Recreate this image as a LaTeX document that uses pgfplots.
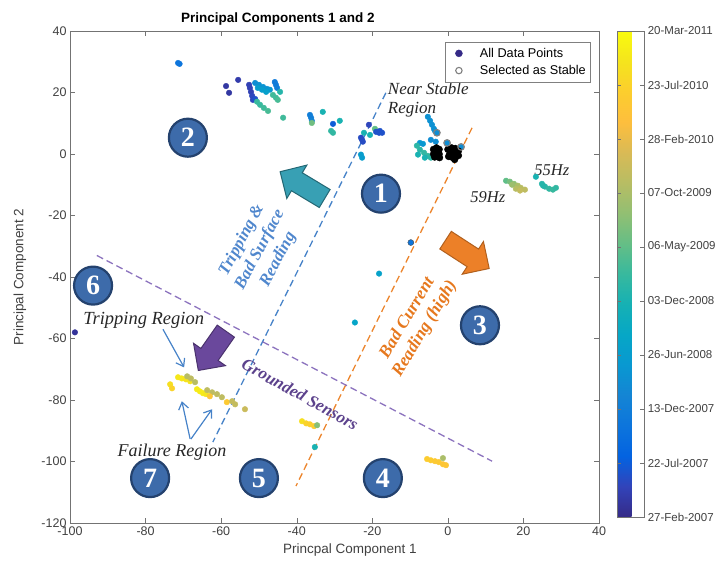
\documentclass[border=0pt]{standalone}
\usepackage{pgfplots}
\pgfplotsset{compat=1.18}
\usetikzlibrary{shapes.arrows,arrows.meta}
\usepackage{fontspec}
\setmainfont{Liberation Sans}
\newfontfamily\timesfont{Liberation Serif}

\definecolor{cbDark}{rgb}{0.2081,0.1663,0.5292}
\definecolor{ptblue}{rgb}{0.0498,0.4586,0.8641}
\definecolor{numblue}{RGB}{61,107,170}
\definecolor{numedge}{RGB}{36,66,110}
\definecolor{tealarrow}{RGB}{56,160,180}
\definecolor{orangearrow}{RGB}{236,128,40}
\definecolor{purplearrow}{RGB}{106,72,156}
\definecolor{bluedash}{RGB}{70,130,200}
\definecolor{orangedash}{RGB}{236,133,45}
\definecolor{purpledash}{RGB}{140,115,190}
\definecolor{bluetext}{RGB}{80,135,205}
\definecolor{orangetext}{RGB}{230,120,30}
\definecolor{purpletext}{RGB}{92,66,140}

\pgfplotstableread{
x y c
-71.4 29.6 1.7
-71.0 29.3 1.7
-58.7 22.1 0.3
-57.9 19.9 0.3
-55.5 24.1 0.4
-52.6 22.5 0.5
-52.4 21.5 0.5
-52.1 20.2 0.5
-51.8 18.9 0.6
-51.6 17.6 0.6
-51.0 17.9 0.8
-51.0 23.1 2.5
-50.0 22.5 2.6
-48.9 21.8 2.7
-47.9 21.2 2.7
-47.1 20.9 2.8
-50.3 21.5 3.0
-49.2 20.9 3.0
-48.1 20.2 3.1
-45.8 23.4 1.9
-45.5 22.5 1.9
-45.2 21.5 2.0
-46.3 19.2 4.6
-45.5 18.3 4.6
-45.0 17.6 4.7
-44.4 20.2 4.2
-50.5 17.0 4.5
-49.7 16.0 4.5
-48.7 15.0 4.6
-47.6 14.0 4.7
-43.6 11.8 4.6
-36.5 12.7 2.0
-36.2 11.8 2.0
-36.0 10.8 2.2
-36.0 10.1 5.2
-33.1 13.7 4.0
-30.4 9.8 1.0
-28.6 10.8 4.0
-30.9 7.5 4.4
-30.4 6.9 4.4
-20.9 9.5 0.6
-19.3 8.2 5.0
-19.0 7.2 0.8
-18.2 6.9 0.8
-17.4 6.9 0.8
-18.0 7.5 0.8
-22.2 6.9 4.0
-20.6 6.2 4.0
-22.7 4.6 0.7
-22.5 4.0 0.7
-23.0 5.3 0.7
-23.0 -0.2 3.0
-22.7 -1.2 3.0
-5.3 12.1 2.6
-4.7 10.8 2.6
-4.2 9.5 2.6
-3.7 8.2 2.6
-3.4 7.5 2.6
-7.4 3.6 2.8
-6.6 3.3 2.8
-8.2 2.7 4.3
-7.4 1.4 4.3
-6.3 0.4 4.4
-5.3 -0.6 4.4
-7.9 -0.2 4.0
-6.1 -1.2 4.0
-4.5 -1.2 4.3
-4.5 4.6 2.5
-3.2 4.0 2.5
-2.9 6.9 2.5
-0.2 3.6 2.5
3.5 2.3 2.5
15.4 -8.7 5.0
16.4 -9.0 5.3
17.5 -9.7 5.6
18.5 -10.3 6.0
19.3 -11.0 6.2
20.4 -11.6 6.3
18.0 -11.3 6.2
17.0 -10.0 5.8
19.1 -11.9 6.4
23.3 -7.4 4.0
24.9 -9.7 4.2
25.7 -10.6 4.3
26.8 -11.3 4.4
27.8 -11.6 4.5
28.6 -11.0 4.4
25.2 -10.3 4.2
-18.2 -38.9 3.2
-24.6 -54.8 3.3
-98.7 -58.0 0.2
-73.5 -74.9 8.3
-73.0 -76.2 8.0
-71.4 -72.6 8.5
-70.4 -73.0 8.5
-69.3 -73.3 8.4
-68.2 -73.9 8.4
-69.0 -72.3 6.2
-68.0 -73.0 6.3
-66.9 -74.2 6.2
-66.4 -76.5 8.6
-65.6 -77.2 8.6
-64.8 -77.8 8.6
-64.0 -78.1 8.5
-63.7 -76.8 6.3
-62.4 -77.5 6.3
-61.1 -78.1 6.3
-63.0 -78.8 7.6
-59.8 -79.1 6.3
-58.5 -80.7 7.7
-57.1 -80.4 6.4
-56.3 -81.4 6.4
-53.7 -83.0 6.5
-38.6 -86.9 8.3
-37.5 -87.6 8.0
-36.5 -87.9 7.9
-35.4 -88.5 7.8
-34.6 -88.2 5.5
-35.2 -95.3 4.0
-5.5 -99.2 7.8
-4.5 -99.6 7.8
-3.4 -99.9 7.7
-2.4 -100.2 7.7
-1.3 -100.9 7.6
-0.5 -101.2 7.6
-1.3 -98.9 6.0
}\alldata

\pgfplotstableread{
x y
-3.8 1.5
-3.0 2.0
-2.3 1.5
-3.8 0.0
-3.0 0.5
-2.3 0.0
-3.5 -1.0
-2.7 -0.8
-3.4 1.0
-2.6 0.8
-3.1 -0.3
-2.2 -1.2
0.0 1.5
1.0 2.0
2.0 1.8
2.8 1.0
0.5 0.0
1.5 0.3
2.5 0.0
1.0 -1.0
2.0 -1.0
2.8 -0.5
0.2 -0.8
0.7 1.0
1.7 1.1
2.3 0.8
1.2 -0.3
1.8 -1.8
}\stableblob

\pgfplotstableread{
x y
-2.9 6.9
-0.2 3.6
3.5 2.3
}\stablering

\begin{document}
\begin{tikzpicture}
\begin{axis}[
  name=main,
  scale only axis,
  width=529pt, height=492pt,
  xmin=-100, xmax=40, ymin=-120, ymax=40,
  xtick={-100,-80,...,40}, ytick={-120,-100,...,40},
  tick align=inside, xtick pos=both, ytick pos=both,
  major tick length=5pt,
  axis line style={black!55},
  every tick/.style={black!55},
  tick label style={font=\fontsize{12.5}{14}\selectfont, text=black!75},
  /pgf/number format/assume math mode=true,
  clip=false,
  title={Principal Components 1 and 2},
  title style={font=\bfseries\fontsize{13.5}{15}\selectfont, at={(0.393,1.006)}, anchor=base},
  xlabel={Princpal Component 1},
  ylabel={Principal Component 2},
  xlabel style={font=\fontsize{13.5}{15}\selectfont, text=black!75, at={(0.529,-0.063)}, anchor=base},
  ylabel style={font=\fontsize{13.5}{15}\selectfont, text=black!75, at={(-0.0945,0.5)}, anchor=center},
  colormap={parula}{
    rgb=(0.2081,0.1663,0.5292) rgb=(0.1959,0.2645,0.7279) rgb=(0.0117,0.3875,0.8820)
    rgb=(0.0498,0.4586,0.8641) rgb=(0.0793,0.5200,0.8312) rgb=(0.0343,0.5966,0.8199)
    rgb=(0.0228,0.6535,0.7768) rgb=(0.0843,0.6928,0.7062) rgb=(0.2178,0.7250,0.6193)
    rgb=(0.3953,0.7459,0.5244) rgb=(0.5709,0.7485,0.4494) rgb=(0.7184,0.7411,0.3905)
    rgb=(0.8507,0.7299,0.3360) rgb=(0.9938,0.7455,0.2403) rgb=(0.9880,0.8066,0.1794)
    rgb=(0.9589,0.8949,0.1132) rgb=(0.9763,0.9831,0.0538)},
  point meta min=0, point meta max=9,
  colorbar right,
  colorbar shift/.style={xshift=8pt},
  colorbar style={
    scale only axis,
    width=27pt, height=486pt,
    ytick={0,...,9},
    yticklabels={27-Feb-2007,22-Jul-2007,13-Dec-2007,26-Jun-2008,03-Dec-2008,06-May-2009,07-Oct-2009,28-Feb-2010,23-Jul-2010,20-Mar-2011},
    yticklabel style={font=\fontsize{11.5}{13}\selectfont, text=black!75},
    axis line style={black!55},
    tick align=inside,
    major tick length=4pt,
    every tick/.style={black!55},
  },
  legend style={at={(0.983,0.978)}, anchor=north east, draw=black!50,
    font=\fontsize{12.7}{14}\selectfont, inner xsep=2pt, inner ysep=4pt, row sep=2.5pt,
    cells={anchor=west}},
  legend cell align=left,
]
\addlegendimage{legend image code/.code={\path[draw=none] (0pt,0pt) -- (31pt,0pt); \fill[cbDark] (12pt,0pt) circle (3.5pt);}}
\addlegendentry{All Data Points}
\addlegendimage{legend image code/.code={\path[draw=none] (0pt,0pt) -- (31pt,0pt); \draw[gray, line width=1.1pt] (12pt,0pt) circle (3.2pt);}}
\addlegendentry{Selected as Stable}

% dashed region boundaries
\addplot[forget plot, bluedash, line width=1.3pt, dash pattern=on 7pt off 4pt] coordinates {(-16.4,19.9) (-62.2,-93.7)};
\addplot[forget plot, orangedash, line width=1.3pt, dash pattern=on 7pt off 4pt] coordinates {(6.4,8.5) (-40.2,-108.0)};
\addplot[forget plot, purpledash, line width=1.3pt, dash pattern=on 7pt off 4pt] coordinates {(-92.9,-33.0) (11.7,-99.9)};

% data
\addplot[forget plot, scatter, only marks, mark=*, mark size=2.8pt,
  scatter src=explicit,
  scatter/use mapped color={draw=mapped color, fill=mapped color}]
  table[x=x, y=y, meta=c] {\alldata};
\addplot[forget plot, only marks, mark=*, mark size=3pt,
  mark options={fill=ptblue, draw=black!70}]
  coordinates {(-9.8,-28.8)};
\addplot[forget plot, only marks, mark=*, mark size=3.4pt,
  mark options={fill=black, draw=black}] table[x=x,y=y] {\stableblob};
\addplot[forget plot, only marks, mark=o, mark size=3.3pt,
  mark options={draw=gray, line width=1.1pt}] table[x=x,y=y] {\stablering};

% block arrows
\tikzset{blockarr/.style={single arrow, line width=1pt, inner sep=10pt,
  minimum height=52pt, single arrow head extend=9pt}}
\node[blockarr, fill=tealarrow, draw=tealarrow!65!black, rotate=149] at (axis cs:-37.3,-11.0) {};
\node[blockarr, fill=orangearrow, draw=orangearrow!75!black, rotate=-33] at (axis cs:4.0,-31.7) {};
\node[blockarr, fill=purplearrow, draw=purplearrow!70!black, minimum height=48pt, rotate=235] at (axis cs:-61.6,-62.6) {};

% thin arrows
\draw[bluedash, line width=1.2pt, -{Straight Barb[length=7pt,width=10pt]}] (axis cs:-75.4,-57.0) -- (axis cs:-69.8,-69.4);
\draw[bluedash, line width=1.2pt, -{Straight Barb[length=7pt,width=10pt]}] (axis cs:-68.2,-92.7) -- (axis cs:-70.4,-80.4);
\draw[bluedash, line width=1.2pt, -{Straight Barb[length=7pt,width=10pt]}] (axis cs:-68.0,-92.7) -- (axis cs:-62.4,-83.0);

% numbered circles
\tikzset{numc/.style={circle, fill=numblue, draw=numedge, line width=2.2pt,
  minimum size=38pt, inner sep=0pt, text=white,
  font=\timesfont\bfseries\fontsize{28}{28}\selectfont}}
\node[numc] at (axis cs:-17.7,-12.9) {1};
\node[numc] at (axis cs:-68.8,5.3) {2};
\node[numc] at (axis cs:8.5,-55.7) {3};
\node[numc] at (axis cs:-17.2,-105.4) {4};
\node[numc] at (axis cs:-50.0,-105.4) {5};
\node[numc] at (axis cs:-93.9,-42.8) {6};
\node[numc] at (axis cs:-78.8,-105.4) {7};

% text annotations
\node[anchor=west, align=left, font=\timesfont\itshape\fontsize{17}{19}\selectfont, text=black!85] at (axis cs:-16.8,17.6) {Near Stable\\Region};
\node[font=\timesfont\itshape\fontsize{16.5}{18}\selectfont, text=black!85] at (axis cs:27.5,-5.1) {55Hz};
\node[font=\timesfont\itshape\fontsize{16.5}{18}\selectfont, text=black!85] at (axis cs:10.6,-13.9) {59Hz};
\node[rotate=62, align=center, font=\timesfont\bfseries\itshape\fontsize{17}{20.5}\selectfont, text=bluetext] at (axis cs:-49.7,-31.1) {Tripping \&\\Bad Surface\\Reading};
\node[rotate=59, align=center, font=\timesfont\bfseries\itshape\fontsize{17.5}{20.5}\selectfont, text=orangetext] at (axis cs:-8.4,-55.1) {Bad Current\\Reading (high)};
\node[rotate=-29, font=\timesfont\bfseries\itshape\fontsize{17}{19}\selectfont, text=purpletext] at (axis cs:-39.1,-78.1) {Grounded Sensors};
\node[font=\timesfont\itshape\fontsize{18.5}{20}\selectfont, text=black!85] at (axis cs:-80.5,-54.1) {Tripping Region};
\node[font=\timesfont\itshape\fontsize{18}{20}\selectfont, text=black!85] at (axis cs:-73.0,-97.0) {Failure Region};
\end{axis}
\pgfresetboundingbox
\path[use as bounding box] ([xshift=-70pt,yshift=-42pt]main.south west) rectangle ++(723pt,565pt);
\end{tikzpicture}
\end{document}
